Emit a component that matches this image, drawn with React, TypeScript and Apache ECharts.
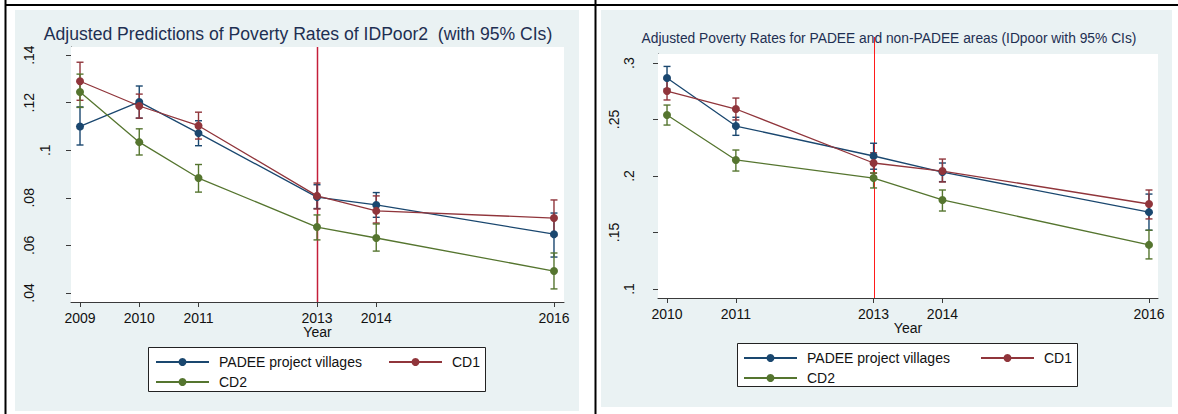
import React, { useEffect, useRef } from "react";
import * as echarts from "echarts";

// ---------- data (left panel: IDPoor2) ----------
const leftXCodes = [2009, 2010, 2011, 2013, 2014, 2017]; // axis position of each wave as drawn in the reference
const leftXLabels = ["2009", "2010", "2011", "2013", "2014", "2016"];
const leftYTicks = [0.04, 0.06, 0.08, 0.1, 0.12, 0.14];
const leftYLabels = [".04", ".06", ".08", ".1", ".12", ".14"];

const leftPadee = [0.110, 0.1203, 0.1072, 0.0803, 0.0770, 0.0647];
const leftPadeeLo = [0.1022, 0.1135, 0.1019, 0.0755, 0.0718, 0.0551];
const leftPadeeHi = [0.1182, 0.1270, 0.1124, 0.0855, 0.0822, 0.0736];
const leftCd1 = [0.1290, 0.1186, 0.1103, 0.0808, 0.0745, 0.0715];
const leftCd1Lo = [0.1210, 0.1135, 0.1047, 0.0753, 0.0694, 0.0640];
const leftCd1Hi = [0.1370, 0.1236, 0.1160, 0.0862, 0.0808, 0.0791];
const leftCd2 = [0.1245, 0.1034, 0.0883, 0.0677, 0.0631, 0.0492];
const leftCd2Lo = [0.1180, 0.0980, 0.0824, 0.0623, 0.0576, 0.0417];
const leftCd2Hi = [0.1320, 0.1090, 0.0940, 0.0728, 0.0690, 0.0568];

// ---------- data (right panel: IDpoor) ----------
const rightXCodes = [2010, 2011, 2013, 2014, 2017];
const rightXLabels = ["2010", "2011", "2013", "2014", "2016"];
const rightYTicks = [0.1, 0.15, 0.2, 0.25, 0.3];
const rightYLabels = [".1", ".15", ".2", ".25", ".3"];

const rightPadee = [0.2867, 0.2442, 0.2177, 0.2035, 0.1680];
const rightPadeeLo = [0.2770, 0.2360, 0.2060, 0.1950, 0.1520];
const rightPadeeHi = [0.2970, 0.2520, 0.2290, 0.2115, 0.1840];
const rightCd1 = [0.2752, 0.2593, 0.2115, 0.2044, 0.1752];
const rightCd1Lo = [0.2673, 0.2496, 0.2025, 0.1947, 0.1620];
const rightCd1Hi = [0.2858, 0.2690, 0.2205, 0.2150, 0.1876];
const rightCd2 = [0.2540, 0.2142, 0.1982, 0.1788, 0.1390];
const rightCd2Lo = [0.2451, 0.2044, 0.1894, 0.1690, 0.1266];
const rightCd2Hi = [0.2628, 0.2230, 0.2027, 0.1876, 0.1520];

const refYear = 2013;
const seriesNames = ["PADEE project villages", "CD1", "CD2"];
const leftTitle = "Adjusted Predictions of Poverty Rates of IDPoor2  (with 95% CIs)";
const rightTitle = "Adjusted Poverty Rates for PADEE and non-PADEE areas (IDpoor with 95% CIs)";

// ---------- style ----------
const BLUE = "#1a476f";
const RED = "#90353b";
const GREEN = "#55752f";
const BG = "#eaf2f3";
const FONT = "Liberation Sans, Arial, sans-serif";
const AXIS = "#3a3a3a";

function lookup(ticks: number[], labels: string[]) {
  return (v: number) => {
    const i = ticks.findIndex((t) => Math.abs(t - v) < 1e-6);
    return i >= 0 ? labels[i] : "";
  };
}

// rotated y labels: longer labels sit further from the axis, as in the reference
function yLookup(ticks: number[], labels: string[]) {
  return (v: number) => {
    const i = ticks.findIndex((t) => Math.abs(t - v) < 1e-6);
    if (i < 0) return "";
    const s = labels[i];
    return s.length > 2 ? "{l|" + s + "}" : "{s|" + s + "}";
  };
}

function xAxisOpt(grid: number, min: number, max: number, ticks: number[], labels: string[]) {
  return {
    type: "value",
    gridIndex: grid,
    min,
    max,
    name: "Year",
    nameLocation: "middle",
    nameGap: 23,
    nameMoveOverlap: false,
    nameTextStyle: { fontFamily: FONT, fontSize: 14, lineHeight: 14, color: "#111" },
    axisLine: { show: true, onZero: false, lineStyle: { color: AXIS, width: 1 } },
    axisTick: { show: true, customValues: ticks, length: 5, lineStyle: { color: AXIS } },
    axisLabel: {
      customValues: ticks,
      formatter: lookup(ticks, labels),
      fontFamily: FONT,
      fontSize: 14,
      lineHeight: 14,
      color: "#111",
      margin: 9,
    },
    splitLine: { show: false },
  };
}

function yAxisOpt(grid: number, min: number, max: number, ticks: number[], labels: string[], margin: number, shift: number) {
  const base = { fontFamily: FONT, fontSize: 14, color: "#111" };
  return {
    type: "value",
    gridIndex: grid,
    min,
    max,
    axisLine: { show: true, onZero: false, lineStyle: { color: AXIS, width: 1 } },
    axisTick: { show: true, customValues: ticks, length: 5, lineStyle: { color: AXIS } },
    axisLabel: {
      customValues: ticks,
      formatter: yLookup(ticks, labels),
      rotate: 90,
      ...base,
      margin,
      rich: {
        s: { ...base },
        l: { ...base, padding: [0, 0, shift, 0] },
      },
    },
    splitLine: { show: true, lineStyle: { color: BG, width: 1.2 } },
  };
}

function lineSeries(name: string, xs: number[], ys: number[], color: string, idx: number) {
  return {
    type: "line",
    name,
    xAxisIndex: idx,
    yAxisIndex: idx,
    data: xs.map((x, i) => [x, ys[i]]),
    symbol: "circle",
    symbolSize: 8,
    showSymbol: true,
    lineStyle: { color, width: 1.3 },
    itemStyle: { color },
    z: 4,
  };
}

function errorSeries(name: string, xs: number[], lo: number[], hi: number[], color: string, idx: number) {
  return {
    type: "custom",
    name,
    xAxisIndex: idx,
    yAxisIndex: idx,
    data: xs.map((x, i) => [x, lo[i], hi[i]]),
    encode: { x: 0, y: [1, 2] },
    z: 3,
    renderItem: (_params: any, api: any) => {
      const x = api.value(0);
      const a = api.coord([x, api.value(1)]);
      const b = api.coord([x, api.value(2)]);
      const hw = 3.5;
      const style = { stroke: color, lineWidth: 1.4, fill: "none" };
      return {
        type: "group",
        children: [
          { type: "line", shape: { x1: a[0], y1: a[1], x2: b[0], y2: b[1] }, style },
          { type: "line", shape: { x1: a[0] - hw, y1: a[1], x2: a[0] + hw, y2: a[1] }, style },
          { type: "line", shape: { x1: b[0] - hw, y1: b[1], x2: b[0] + hw, y2: b[1] }, style },
        ],
      };
    },
  };
}

function refLineSeries(idx: number, color: string, width: number, extendTop: number) {
  return {
    type: "custom",
    name: "ref" + idx,
    xAxisIndex: idx,
    yAxisIndex: idx,
    data: [[refYear]],
    encode: { x: 0 },
    z: 2,
    renderItem: (params: any, api: any) => {
      const cs = params.coordSys;
      const p = api.coord([api.value(0), 0]);
      const x = Math.round(p[0]) + 0.5;
      return {
        type: "line",
        shape: { x1: x, y1: cs.y - extendTop, x2: x, y2: cs.y + cs.height },
        style: { stroke: color, lineWidth: width },
      };
    },
  };
}

function legendItem(name: string, left: number, top: number) {
  return {
    data: [name],
    left,
    top,
    orient: "horizontal",
    itemWidth: 53,
    itemHeight: 10,
    itemGap: 0,
    padding: 0,
    selectedMode: false,
    textStyle: { fontFamily: FONT, fontSize: 14, color: "#111", padding: [0, 0, 0, 5] },
    z: 6,
  };
}

export default function App() {
  const ref = useRef<HTMLDivElement>(null);
  useEffect(() => {
    if (!ref.current) return;
    const chart = echarts.init(ref.current, undefined, { renderer: "svg" });
    const option: any = {
      animation: false,
      grid: [
        { left: 71, top: 47, width: 493, height: 255, show: true, backgroundColor: "#fff", borderWidth: 0, z: 1 },
        { left: 658, top: 54, width: 500, height: 244, show: true, backgroundColor: "#fff", borderWidth: 0, z: 1 },
      ],
      xAxis: [
        xAxisOpt(0, 2008.848, 2017.169, leftXCodes, leftXLabels),
        xAxisOpt(1, 2009.869, 2017.131, rightXCodes, rightXLabels),
      ],
      yAxis: [
        yAxisOpt(0, 0.0362, 0.1434, leftYTicks, leftYLabels, 19, 16),
        yAxisOpt(1, 0.092, 0.308, rightYTicks, rightYLabels, 22, 15),
      ],
      legend: [
        legendItem(seriesNames[0], 155, 355),
        legendItem(seriesNames[1], 388, 355),
        legendItem(seriesNames[2], 155, 375),
        legendItem(seriesNames[0], 743, 351),
        legendItem(seriesNames[1], 980, 351),
        legendItem(seriesNames[2], 743, 371),
      ],
      graphic: [
        { type: "rect", z: -2, shape: { x: 15, y: 10, width: 564, height: 401 }, style: { fill: BG } },
        { type: "rect", z: -2, shape: { x: 601, y: 10, width: 571, height: 397 }, style: { fill: BG } },
        { type: "rect", z: 5, shape: { x: 148.5, y: 347.5, width: 337, height: 44 }, style: { fill: "#fff", stroke: "#222", lineWidth: 1 } },
        { type: "rect", z: 5, shape: { x: 737.5, y: 343.5, width: 340, height: 43 }, style: { fill: "#fff", stroke: "#222", lineWidth: 1 } },
        { type: "line", z: 10, shape: { x1: 5, y1: 5, x2: 1178, y2: 5 }, style: { stroke: "#000", lineWidth: 2 } },
        { type: "line", z: 10, shape: { x1: 5.5, y1: 0, x2: 5.5, y2: 414 }, style: { stroke: "#000", lineWidth: 2 } },
        { type: "line", z: 10, shape: { x1: 595.5, y1: 0, x2: 595.5, y2: 414 }, style: { stroke: "#000", lineWidth: 2 } },
        {
          type: "text", z: 6, x: 298, y: 34,
          style: { text: leftTitle, fontFamily: FONT, fontSize: 17.6, fill: "#1e2f52", align: "center", verticalAlign: "middle" },
        },
        {
          type: "text", z: 6, x: 889, y: 38,
          style: { text: rightTitle, fontFamily: FONT, fontSize: 13.8, fill: "#1e2f52", align: "center", verticalAlign: "middle" },
        },
      ],
      series: [
        refLineSeries(0, "#c41e3a", 1.5, 0),
        refLineSeries(1, "#ff1a1a", 1, 17),
        errorSeries("e0a", leftXCodes, leftPadeeLo, leftPadeeHi, BLUE, 0),
        errorSeries("e0b", leftXCodes, leftCd1Lo, leftCd1Hi, RED, 0),
        errorSeries("e0c", leftXCodes, leftCd2Lo, leftCd2Hi, GREEN, 0),
        lineSeries(seriesNames[0], leftXCodes, leftPadee, BLUE, 0),
        lineSeries(seriesNames[1], leftXCodes, leftCd1, RED, 0),
        lineSeries(seriesNames[2], leftXCodes, leftCd2, GREEN, 0),
        errorSeries("e1a", rightXCodes, rightPadeeLo, rightPadeeHi, BLUE, 1),
        errorSeries("e1b", rightXCodes, rightCd1Lo, rightCd1Hi, RED, 1),
        errorSeries("e1c", rightXCodes, rightCd2Lo, rightCd2Hi, GREEN, 1),
        lineSeries(seriesNames[0], rightXCodes, rightPadee, BLUE, 1),
        lineSeries(seriesNames[1], rightXCodes, rightCd1, RED, 1),
        lineSeries(seriesNames[2], rightXCodes, rightCd2, GREEN, 1),
      ],
    };
    chart.setOption(option);
    return () => chart.dispose();
  }, []);
  return <div ref={ref} style={{ position: "absolute", left: 0, top: 0, width: 1178, height: 414 }} />;
}
